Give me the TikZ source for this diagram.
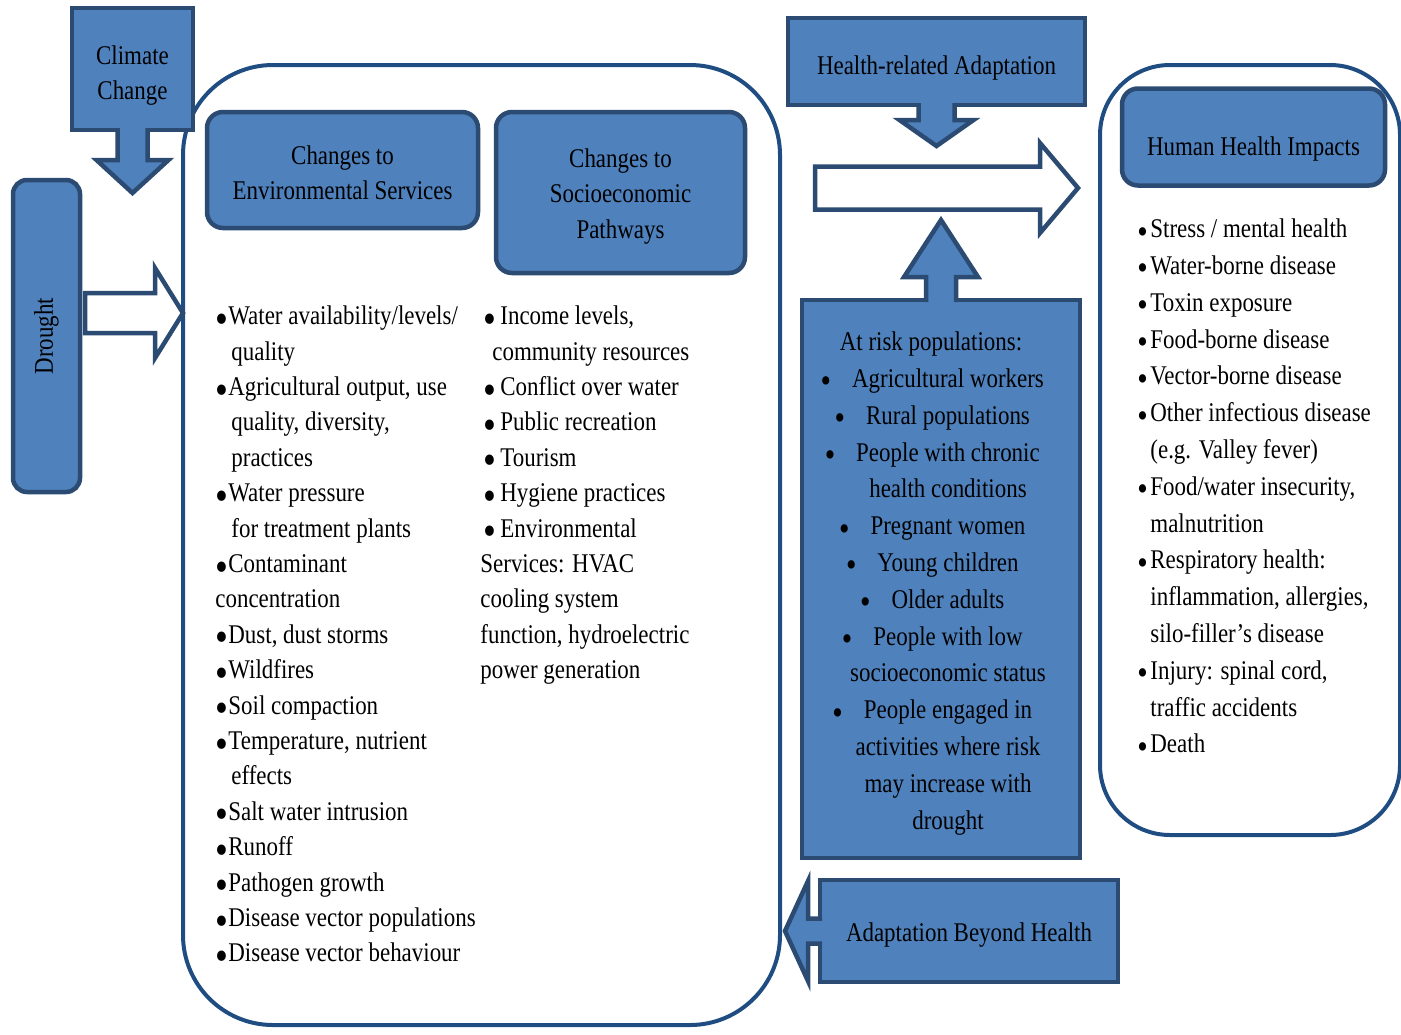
\documentclass[tikz,border=0pt]{standalone}
\usepackage{fontspec}
\setmainfont{Liberation Serif}[FakeStretch=0.85]
\usetikzlibrary{calc,positioning}
\definecolor{boxblue}{HTML}{4F81BD}
\definecolor{boxedge}{HTML}{2B4B73}
\definecolor{frameedge}{HTML}{1F4D82}
\newdimen\px
\px=0.5pt
\tikzstyle{bluebox}=[
  draw=boxedge,
  fill=boxblue,
  line width=4.5\px,
  inner sep=0pt,
  outer sep=0pt,
  align=center,
  text=black,
]
\tikzstyle{roundbox}=[
  bluebox,
  rounded corners=16\px,
]
\tikzstyle{frame}=[
  draw=frameedge,
  line width=4\px,
  inner sep=0pt,
  outer sep=0pt,
]
\tikzstyle{blockarrow}=[
  draw=boxedge,
  line width=4.5\px,
  line join=miter,
]
\tikzstyle{listtext}=[
  align=left,
  inner sep=0pt,
  anchor=north west,
]
% pushes a box title down by half its argument (in px)
\newcommand{\drop}[1]{\rule{0pt}{\dimexpr18.4\px+#1\px\relax}}
\newcommand{\bul}[1][13\px]{\makebox[#1][l]{\raisebox{-0.32em}{\scalebox{1.6}{\textbullet}}}}
\newcommand{\sbul}{\makebox[13\px][l]{\raisebox{-0.2em}{\scalebox{1.3}{\textbullet}}}}
\newcommand{\cbul}{\llap{\raisebox{-0.2em}{\scalebox{1.3}{\textbullet}}\hspace*{21\px}}}

\begin{document}
\begin{tikzpicture}[x=0.5pt, y=-0.5pt, font=\fontsize{13.5}{17.7}\selectfont]
  \useasboundingbox (0,0) rectangle (1401,1034);
  \clip (0,0) rectangle (1401,1034);
  %% frames
  \node (envframe) [frame, rounded corners=90\px, minimum width=597\px, minimum height=960\px] at (481.5,545) {};
  \node (healthframe) [frame, rounded corners=70\px, minimum width=300\px, minimum height=770\px] at (1250,450) {};
  %% climate change and drought
  \node (climate) [bluebox, minimum width=121\px, minimum height=122\px] at (132.5,69) {\drop{14}Climate\\Change};
  \draw [blockarrow, fill=boxblue] ($(climate.south)+(-15,-2)$) -- ++(0,32) -- ++(-21,0)
  -- ($(climate.south)+(0,63)$) -- ($(climate.south)+(36,30)$) -- ++(-21,0) -- ++(0,-32);
  \node (drought) [roundbox, rounded corners=14\px, minimum width=67\px, minimum height=312\px] at (46.5,336) {\rotatebox{90}{Drought}};
  \coordinate (dtail) at ($(drought.east)+(5,-23)$);
  \coordinate (dtip) at (envframe.west |- dtail);
  \draw [blockarrow, fill=white] ($(dtail)+(0,-20)$) -- ($(dtip)+(-28,-20)$) -- ++(0,-25) -- (dtip)
  -- ($(dtip)+(-28,45)$) -- ++(0,-25) -- ($(dtail)+(0,20)$) -- cycle;
  %% environmental and socioeconomic changes
  \node (envsvc) [roundbox, minimum width=271\px, minimum height=116\px] at (342.5,170) {\drop{6}Changes to\\Environmental Services};
  \node (socio) [roundbox, minimum width=249\px, minimum height=161\px] at (620.5,192.5) {\drop{8}Changes to\\Socioeconomic\\Pathways};
  \node (envlist) [listtext] at (215,305.5) {%
    \bul Water availability/levels/\\
    \hspace*{16\px}quality\\
    \bul Agricultural output, use\\
    \hspace*{16\px}quality, diversity,\\
    \hspace*{16\px}practices\\
    \bul Water pressure\\
    \hspace*{16\px}for treatment plants\\
    \bul Contaminant\\
    concentration\\
    \bul Dust, dust storms\\
    \bul Wildfires\\
    \bul Soil compaction\\
    \bul Temperature, nutrient\\
    \hspace*{16\px}effects\\
    \bul Salt water intrusion\\
    \bul Runoff\\
    \bul Pathogen growth\\
    \bul Disease vector populations\\
    \bul Disease vector behaviour};
  \node (sociolist) [listtext] at (480,305.5) {%
    \hspace*{3\px}\bul[17\px]Income levels,\\
    \hspace*{12\px}community resources\\
    \hspace*{3\px}\bul[17\px]Conflict over water\\
    \hspace*{3\px}\bul[17\px]Public recreation\\
    \hspace*{3\px}\bul[17\px]Tourism\\
    \hspace*{3\px}\bul[17\px]Hygiene practices\\
    \hspace*{3\px}\bul[17\px]Environmental\\
    Services: HVAC\\
    cooling system\\
    function, hydroelectric\\
    power generation};
  %% adaptation
  \node (hadapt) [bluebox, minimum width=297\px, minimum height=87\px] at (936.5,61.5) {\drop{14}Health-related Adaptation};
  \draw [blockarrow, fill=boxblue] ($(hadapt.south)+(-18,-2)$) -- ++(0,17) -- ++(-19,0)
  -- ($(hadapt.south)+(0,41)$) -- ($(hadapt.south)+(37,15)$) -- ++(-19,0) -- ++(0,-17);
  \node (atrisk) [bluebox, minimum width=278\px, minimum height=558\px] at (941,579) {};
  \draw [blockarrow, fill=boxblue] ($(atrisk.north)+(-15,2)$) -- ++(0,-25) -- ++(-22,0)
  -- ($(atrisk.north)+(0,-80)$) -- ($(atrisk.north)+(37,-23)$) -- ++(-22,0) -- ++(0,25);
  \node (atrisklist) [align=center, inner sep=0pt, anchor=north, font=\fontsize{13.5}{18.4}\selectfont] at (948,331.5) {%
    At risk populations:\hspace*{34\px}\\
    \cbul Agricultural workers\\
    \cbul Rural populations\\
    \cbul People with chronic\\
    health conditions\\
    \cbul Pregnant women\\
    \cbul Young children\\
    \cbul Older adults\\
    \cbul People with low\\
    socioeconomic status\\
    \cbul People engaged in\\
    activities where risk\\
    may increase with\\
    drought};
  \coordinate (htail) at ($(hadapt.south west)+(27,83)$);
  \coordinate (htip) at ($(healthframe.west |- htail)+(-22,0)$);
  \draw [blockarrow, fill=white] ($(htail)+(0,-21.5)$) -- ($(htip)+(-38,-21.5)$) -- ++(0,-23.5) -- (htip)
  -- ($(htip)+(-38,45)$) -- ++(0,-23.5) -- ($(htail)+(0,21.5)$) -- cycle;
  \node (beyond) [bluebox, minimum width=298\px, minimum height=102\px] at (969,931) {\drop{8}Adaptation Beyond Health};
  \draw [blockarrow, fill=boxblue] ($(beyond.west)+(2,-12.5)$) -- ++(-14,0) -- ++(0,-37.5)
  -- ($(beyond.west)+(-35,0)$) -- ($(beyond.west)+(-12,50)$) -- ++(0,-37.5) -- ++(14,0);
  %% health impacts
  \node (hhi) [roundbox, minimum width=263\px, minimum height=97\px] at (1253.5,137) {\drop{24}Human Health Impacts};
  \node (hhilist) [listtext, font=\fontsize{13.5}{18.4}\selectfont] at (1137,218.5) {%
    \sbul Stress / mental health\\
    \sbul Water-borne disease\\
    \sbul Toxin exposure\\
    \sbul Food-borne disease\\
    \sbul Vector-borne disease\\
    \sbul Other infectious disease\\
    \hspace*{13\px}(e.g. Valley fever)\\
    \sbul Food/water insecurity,\\
    \hspace*{13\px}malnutrition\\
    \sbul Respiratory health:\\
    \hspace*{13\px}inflammation, allergies,\\
    \hspace*{13\px}silo-filler’s disease\\
    \sbul Injury: spinal cord,\\
    \hspace*{13\px}traffic accidents\\
    \sbul Death};
\end{tikzpicture}
\end{document}
